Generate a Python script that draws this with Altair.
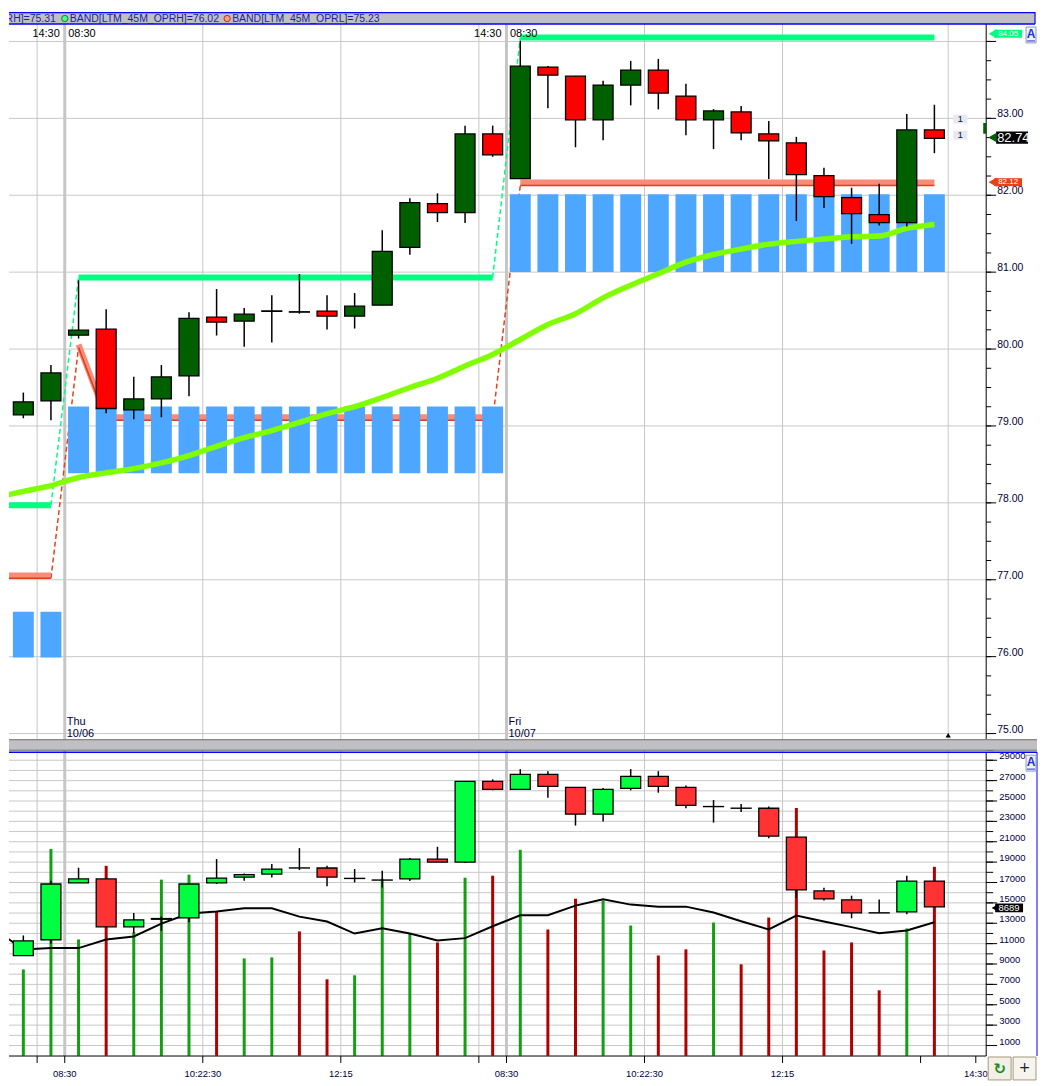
import altair as alt
import pandas as pd

# ---------------- price candles (top panel) ----------------
idx = list(range(34))
p_open = [79.145, 79.326, 80.181, 80.259, 79.21, 79.352, 79.65, 80.414, 80.363, 80.49,
          80.485, 80.492, 80.427, 80.57, 81.321, 81.891, 81.775, 82.798, 82.215, 83.666,
          83.549, 82.979, 83.433, 83.627, 83.29, 82.979, 83.083, 82.798, 82.681, 82.254,
          81.969, 81.749, 81.645, 82.85]
p_high = [79.434, 79.793, 80.894, 80.518, 79.64, 79.793, 80.479, 80.781, 80.535, 80.70,
          80.975, 80.70, 80.729, 81.545, 81.96, 82.025, 82.905, 82.905, 84.01, 83.68,
          83.549, 83.488, 83.747, 83.773, 83.45, 83.12, 83.16, 82.966, 82.759, 82.357,
          82.098, 82.15, 83.057, 83.177]
p_low = [79.10, 79.075, 80.137, 79.166, 79.088, 79.114, 79.386, 80.176, 80.03, 80.086,
         80.46, 80.254, 80.267, 80.57, 81.225, 81.653, 81.64, 82.50, 82.215, 83.13,
         82.624, 82.715, 83.169, 83.117, 82.78, 82.60, 82.715, 82.21, 81.666, 81.834,
         81.368, 81.606, 81.593, 82.547]
p_close = [79.313, 79.689, 80.246, 79.227, 79.352, 79.637, 80.40, 80.35, 80.453, 80.495,
           80.48, 80.427, 80.557, 81.27, 81.904, 81.775, 82.798, 82.526, 83.679, 83.562,
           82.979, 83.433, 83.627, 83.329, 82.979, 83.096, 82.811, 82.707, 82.267, 81.982,
           81.762, 81.645, 82.85, 82.74]

# opening-range band boxes per candle
band_lo = [75.99] * 2 + [78.385] * 16 + [81.001] * 16
band_hi = [76.585] * 2 + [79.253] * 16 + [82.012] * 16

# line series (index -1 .. 33)
line_idx = list(range(-1, 34))
session = [0] * 3 + [1] * 16 + [2] * 16
oprh = [77.97] * 3 + [80.93] * 16 + [84.05] * 16
oprl = [77.057] * 3 + [80.06] + [79.113] * 15 + [82.165] * 16
ma = [78.07, 78.15, 78.225, 78.33, 78.39, 78.445, 78.52, 78.614, 78.735, 78.848,
      78.94, 79.045, 79.16, 79.25, 79.37, 79.50, 79.62, 79.78, 79.93, 80.124,
      80.32, 80.46, 80.665, 80.83, 80.98, 81.13, 81.23, 81.30, 81.364, 81.40,
      81.43, 81.46, 81.47, 81.57, 81.62]

# ---------------- lower panel ----------------
vol = [8470, 20300, 11410, 18640, 12120, 17280, 17770, 14150, 9550, 9650,
       12200, 7500, 7890, 17370, 12000, 11120, 17470, 17670, 20210, 12390,
       15410, 15220, 12780, 9840, 10440, 13070, 8970, 13560, 24310, 10330,
       11120, 6420, 12490, 18540]
vol_line = [12340, 10430, 10560, 10560, 11410, 11700, 12970, 13950, 14150, 14480,
            14480, 13650, 13170, 11990, 12520, 11990, 11310, 11540, 12710, 13790,
            13790, 14730, 15350, 14830, 14630, 14630, 14050, 13200, 12390, 13750,
            13170, 12620, 12020, 12290, 13100]
b_open = [9821, 11380, 16954, 17346, 12648, 13392, 13533, 16954, 17537, 17829,
          18422, 18422, 17406, 17245, 17346, 19297, 19006, 26923, 26148, 27607,
          26339, 23704, 26239, 27416, 26339, 24448, 24287, 24287, 21450, 16169,
          15294, 14016, 14117, 17145]
b_high = [11803, 17175, 18452, 17346, 14016, 13654, 16853, 19297, 17889, 18815,
          20374, 18644, 18322, 18151, 19398, 20505, 26923, 27124, 28130, 27929,
          26339, 26269, 28130, 27929, 26531, 25092, 24710, 24448, 21450, 16491,
          15706, 15324, 17668, 17145]
b_low = [9821, 10988, 16954, 12648, 12024, 12255, 13101, 16853, 17175, 17497,
         18221, 16622, 17014, 16521, 17145, 19006, 18905, 26048, 26148, 25323,
         22587, 22980, 26048, 25816, 24287, 22879, 23925, 21350, 15485, 15223,
         13493, 14016, 13885, 14610]
b_close = [11280, 16853, 17346, 12648, 13332, 13463, 16853, 17436, 17768, 18322,
           18432, 17537, 17396, 17235, 19297, 19006, 26923, 26148, 27607, 26440,
           23704, 26148, 27416, 26440, 24579, 24458, 24297, 21551, 16269, 15394,
           14016, 14026, 17145, 14610]

# ---------------- axes / labels ----------------
price_grid = [75, 76, 77, 78, 79, 80, 81, 82, 83, 84]
price_labels = [75, 76, 77, 78, 79, 80, 81, 82, 83]   # 84.00 is hidden under the tag
price_minor = [75 + 0.25 * k for k in range(38)]
vol_grid = [1000 * k for k in range(1, 31)]
vol_labels = [1000 * k for k in range(1, 30, 2)]
vgrid_idx = [0.5, 1.5, 6.5, 11.5, 16.5, 17.5, 22.5, 27.5, 33.5]
vgrid_w = [1, 3, 1, 1, 1, 3, 1, 1, 1]
xtick_idx = [0.5, 1.5, 6.5, 11.5, 16.5, 17.5, 22.5, 27.5, 32.5, 34.5]
xlab_idx = [1.5, 6.5, 11.5, 17.5, 22.5, 27.5, 34.5]
xlab_txt = ['08:30', '10:22:30', '12:15', '08:30', '10:22:30', '12:15', '14:30']
session_idx = [1.5, 17.5]
sess_end_lab = ['14:30', '14:30']
sess_start_lab = ['08:30', '08:30']
day_name = ['Thu', 'Fri']
day_date = ['10/06', '10/07']
one_levels = [82.99, 82.78]
now_idx = [33.5]

# ---------------- frames ----------------
cd = pd.DataFrame(dict(i=idx, o=p_open, h=p_high, l=p_low, c=p_close, lo=band_lo, hi=band_hi,
                       vol=vol, zero=[0] * 34, bo=b_open, bh=b_high, bl=b_low, bc=b_close))
ld = pd.DataFrame(dict(i=line_idx, s=session, ma=ma, oh=oprh, ol=oprl, vl=vol_line))
rows = []
seg = 0
for k in range(1, len(line_idx)):
    if session[k] != session[k - 1]:
        for j in (k - 1, k):
            rows.append({'seg': seg, 'i': line_idx[j], 'h': oprh[j], 'l': oprl[j]})
        seg += 1
trans = pd.DataFrame(rows)
vg = pd.DataFrame({'i': vgrid_idx, 'w': vgrid_w})
ses = pd.DataFrame({'i': session_idx, 'tl': sess_end_lab, 'tr': sess_start_lab,
                    'dn': day_name, 'dd': day_date})
ONE = pd.DataFrame({'k': [0]})

W = 981
H_TOP = 730
H_BOT = 318
FONT = 'Liberation Sans'
xs = alt.Scale(domain=[-0.339, 34.696], nice=False, zero=False)
yt = alt.Scale(domain=[74.926, 84.382], nice=False, zero=False)
yb = alt.Scale(domain=[-30, 31060], nice=False, zero=False)
NX = alt.X('i:Q', scale=xs, axis=None)


def YT(f):
    return alt.Y(f, scale=yt, axis=None)


def YB(f):
    return alt.Y(f, scale=yb, axis=None)


def px_rect(x1, x2, y1, y2, fill, stroke='', sw=0):
    kw = dict(fill=fill)
    if stroke:
        kw.update(stroke=stroke, strokeWidth=sw)
    return alt.Chart(ONE).mark_rect(**kw).encode(
        x=alt.value(x1), x2=alt.value(x2), y=alt.value(y1), y2=alt.value(y2))


def px_rule(x1, y1, x2, y2, color, w=1):
    return alt.Chart(ONE).mark_rule(color=color, strokeWidth=w).encode(
        x=alt.value(x1), x2=alt.value(x2), y=alt.value(y1), y2=alt.value(y2))


def px_text(x, y, txt, color, size=11, align='left', weight='normal', font=FONT, clip=False):
    return alt.Chart(ONE).mark_text(text=txt, color=color, fontSize=size, align=align,
                                    baseline='middle', font=font, fontWeight=weight,
                                    clip=clip).encode(x=alt.value(x), y=alt.value(y))


up_dn_top = alt.condition('datum.c >= datum.o', alt.value('#006000'), alt.value('#ff0000'))

# ---------------- top panel ----------------
t_hgrid = alt.Chart(pd.DataFrame({'v': price_grid})).mark_rule(color='#c8c8c8', strokeWidth=1).encode(
    y=YT('v:Q'))
t_vgrid = alt.Chart(vg).mark_rule(color='#c6c6c6').encode(
    x=NX, strokeWidth=alt.StrokeWidth('w:Q', scale=None))
t_dash_g = alt.Chart(trans).mark_line(color='#00ff80', strokeWidth=1.5, strokeDash=[5, 3], clip=True).encode(
    x=NX, y=YT('h:Q'), detail='seg:N')
t_dash_r = alt.Chart(trans).mark_line(color='#e8401c', strokeWidth=1.5, strokeDash=[5, 3], yOffset=3,
                                      clip=True).encode(x=NX, y=YT('l:Q'), detail='seg:N')
t_salmon = alt.Chart(ld).mark_line(color='#f98b79', strokeWidth=6, clip=True).encode(
    x=NX, y=YT('ol:Q'), detail='s:N')
t_red = alt.Chart(ld).mark_line(color='#e03c1c', strokeWidth=1.5, yOffset=3, clip=True).encode(
    x=NX, y=YT('ol:Q'), detail='s:N')
t_green = alt.Chart(ld).mark_line(color='#00ff80', strokeWidth=6, clip=True).encode(
    x=NX, y=YT('oh:Q'), detail='s:N')
t_band = alt.Chart(cd).mark_bar(size=21, color='#4da6ff', clip=True).encode(
    x=NX, y=YT('lo:Q'), y2='hi:Q')
t_ma = alt.Chart(ld).mark_line(color='#80ff00', strokeWidth=5.5, interpolate='monotone', clip=True).encode(
    x=NX, y=YT('ma:Q'))
t_wick = alt.Chart(cd).mark_rule(color='black', strokeWidth=1.5).encode(x=NX, y=YT('l:Q'), y2='h:Q')
t_body = alt.Chart(cd).mark_bar(size=20, stroke='black', strokeWidth=1.3).encode(
    x=NX, y=YT('o:Q'), y2='c:Q', color=up_dn_top)

# right price axis (drawn by hand)
t_axis_line = px_rule(W, 0, W, H_TOP, 'black', 1)
t_tick_minor = alt.Chart(pd.DataFrame({'v': price_minor})).mark_rule(color='black').encode(
    x=alt.value(W), x2=alt.value(W + 5), y=YT('v:Q'))
t_tick_major = alt.Chart(pd.DataFrame({'v': price_grid})).mark_rule(color='black').encode(
    x=alt.value(W), x2=alt.value(W + 10), y=YT('v:Q'))
t_axis_lab = alt.Chart(pd.DataFrame({'v': price_labels})).transform_calculate(
    t="format(datum.v, '.2f')").mark_text(
    align='left', baseline='alphabetic', dy=-1, font=FONT, fontSize=10.5, color='#000033').encode(
    x=alt.value(W + 11), y=YT('v:Q'), text='t:N')
t_flag = alt.Chart(pd.DataFrame({'v': [82.87]})).mark_rect(fill='#006000').transform_calculate(
    a='datum.v - 0.07', b='datum.v + 0.07').encode(
    x=alt.value(W - 3), x2=alt.value(W), y=YT('a:Q'), y2='b:Q')

t_tl = alt.Chart(ses).mark_text(align='right', dx=-5, baseline='alphabetic', fontSize=11, font=FONT,
                                color='black').encode(x=NX, y=alt.value(25), text='tl:N')
t_tr = alt.Chart(ses).mark_text(align='left', dx=3.5, baseline='alphabetic', fontSize=11, font=FONT,
                                color='black').encode(x=NX, y=alt.value(25), text='tr:N')
t_dn = alt.Chart(ses).mark_text(align='left', dx=2, baseline='alphabetic', fontSize=11, font=FONT,
                                color='#000040').encode(x=NX, y=alt.value(716), text='dn:N')
t_dd = alt.Chart(ses).mark_text(align='left', dx=2, baseline='alphabetic', fontSize=11, font=FONT,
                                color='#000040').encode(x=NX, y=alt.value(728), text='dd:N')
t_now = alt.Chart(pd.DataFrame({'i': now_idx})).mark_point(shape='triangle-up', filled=True, size=28,
                                                           color='black', opacity=1).encode(
    x=NX, y=alt.value(726))

ones = pd.DataFrame({'v': one_levels, 't': ['1', '1']})
t_one_bg = alt.Chart(ones).mark_rect(fill='#e8e8f4').transform_calculate(
    a='datum.v - 0.058', b='datum.v + 0.058').encode(
    x=alt.value(948), x2=alt.value(962), y=YT('a:Q'), y2='b:Q')
t_one_tx = alt.Chart(ones).mark_text(font=FONT, fontSize=10, color='#202020').encode(
    x=alt.value(955), y=YT('v:Q'), text='t:N')

tags = pd.DataFrame({'v': [84.10, 82.17], 't': ['84.05', '82.12'], 'f': ['#00ff80', '#e8401c']})
t_tag_r = alt.Chart(tags).mark_rect().transform_calculate(
    a='datum.v - 0.052', b='datum.v + 0.052').encode(
    x=alt.value(W + 8), x2=alt.value(W + 36), y=YT('a:Q'), y2='b:Q', fill=alt.Fill('f:N', scale=None))
t_tag_a = alt.Chart(tags).mark_point(shape='triangle-left', filled=True, size=35, opacity=1).encode(
    x=alt.value(W + 7), y=YT('v:Q'), fill=alt.Fill('f:N', scale=None), stroke=alt.Stroke('f:N', scale=None))
t_tag_t = alt.Chart(tags).mark_text(font=FONT, fontSize=8, color='white').encode(
    x=alt.value(W + 22), y=YT('v:Q'), text='t:N')

last = pd.DataFrame({'v': [82.75], 't': ['82.74']})
t_last_r = alt.Chart(last).mark_rect(fill='black').transform_calculate(
    a='datum.v - 0.08', b='datum.v + 0.08').encode(
    x=alt.value(W + 10), x2=alt.value(W + 42), y=YT('a:Q'), y2='b:Q')
t_last_a = alt.Chart(last).mark_point(shape='triangle-left', filled=True, size=80, color='#006000',
                                      opacity=1).encode(x=alt.value(W + 6), y=YT('v:Q'))
t_last_t = alt.Chart(last).mark_text(font=FONT, fontSize=13, color='white', align='left').encode(
    x=alt.value(W + 11), y=YT('v:Q'), text='t:N')

hdr = [
    px_rect(0, 1030, 0, 12, '#c0c0c0'),
    px_rule(0, 0.5, 1030, 0.5, '#0000ff', 1.2),
    px_rule(0, 12, 1030, 12, '#0000ff', 1.5),
    px_rule(1030, 0, 1030, 12, '#0000ff', 1.2),
    px_text(47, 6.5, 'RH]=75.31', '#1a1ab4', 10.5, align='right', clip=True),
    alt.Chart(ONE).mark_circle(size=40, color='#44ff88', stroke='#207040', strokeWidth=1, opacity=1).encode(
        x=alt.value(56), y=alt.value(6.5)),
    px_text(61, 6.5, 'BAND[LTM_45M_OPRH]=76.02', '#1a1ab4', 10.5),
    alt.Chart(ONE).mark_circle(size=40, color='#ff9a88', stroke='#b03020', strokeWidth=1, opacity=1).encode(
        x=alt.value(219), y=alt.value(6.5)),
    px_text(224, 6.5, 'BAND[LTM_45M_OPRL]=75.23', '#1a1ab4', 10.5),
    px_rect(1021, 1031, 15, 31, '#eef0fa', '#9098c8', 1),
    px_text(1026, 22, 'A', '#2030d0', 12, align='center', weight='bold'),
    px_rule(1022, 29, 1030, 29, '#2030d0', 1),
]

top = alt.layer(
    t_hgrid, t_vgrid, t_dash_g, t_dash_r, t_salmon, t_red, t_green, t_band, t_ma,
    t_wick, t_body, t_axis_line, t_tick_minor, t_tick_major, t_axis_lab, t_flag,
    t_tl, t_tr, t_dn, t_dd, t_now,
    t_one_bg, t_one_tx, t_tag_r, t_tag_a, t_tag_t, t_last_r, t_last_a, t_last_t, *hdr
).properties(width=W, height=H_TOP)

# ---------------- bottom panel ----------------
b_hgrid = alt.Chart(pd.DataFrame({'v': vol_grid})).mark_rule(color='#c8c8c8', strokeWidth=1).encode(
    y=YB('v:Q'))
b_vgrid = alt.Chart(vg).mark_rule(color='#c6c6c6').encode(
    x=NX, strokeWidth=alt.StrokeWidth('w:Q', scale=None))
b_vol = alt.Chart(cd).mark_rule(strokeWidth=3, strokeCap='butt').encode(
    x=NX, y=YB('vol:Q'), y2='zero:Q',
    color=alt.condition('datum.c >= datum.o', alt.value('#12a012'), alt.value('#b00000')))
b_line = alt.Chart(ld).mark_line(color='black', strokeWidth=2, clip=True).encode(x=NX, y=YB('vl:Q'))
b_wick = alt.Chart(cd).mark_rule(color='black', strokeWidth=1.5).encode(x=NX, y=YB('bl:Q'), y2='bh:Q')
b_body = alt.Chart(cd).mark_bar(size=20, stroke='black', strokeWidth=1.3).encode(
    x=NX, y=YB('bo:Q'), y2='bc:Q',
    color=alt.condition('datum.bc >= datum.bo', alt.value('#00ff40'), alt.value('#ff3333')))

# right axis + bottom time axis (drawn by hand)
b_axis_v = px_rule(W, 13, W, H_BOT, 'black', 1)
b_axis_h = px_rule(0, H_BOT, W, H_BOT, 'black', 1)
b_tick_minor = alt.Chart(pd.DataFrame({'v': vol_grid})).mark_rule(color='black').encode(
    x=alt.value(W), x2=alt.value(W + 7), y=YB('v:Q'))
b_tick_major = alt.Chart(pd.DataFrame({'v': vol_labels})).mark_rule(color='black').encode(
    x=alt.value(W), x2=alt.value(W + 11), y=YB('v:Q'))
b_axis_lab = alt.Chart(pd.DataFrame({'v': vol_labels})).transform_calculate(
    t="format(datum.v, 'd')").mark_text(
    align='left', baseline='alphabetic', dy=-1, font=FONT, fontSize=9.5, color='#000040').encode(
    x=alt.value(W + 13), y=YB('v:Q'), text='t:N')
b_xtick = alt.Chart(pd.DataFrame({'i': xtick_idx})).mark_rule(color='black').encode(
    x=NX, y=alt.value(H_BOT), y2=alt.value(H_BOT + 7))
b_xlab = alt.Chart(pd.DataFrame({'i': xlab_idx, 't': xlab_txt})).mark_text(
    align='center', baseline='alphabetic', font=FONT, fontSize=9.5, color='#000040').encode(
    x=NX, y=alt.value(H_BOT + 21), text='t:N')

btag = pd.DataFrame({'v': [14508], 't': ['8689']})
b_tag_r = alt.Chart(btag).mark_rect(fill='black').transform_calculate(
    a='datum.v - 430', b='datum.v + 430').encode(
    x=alt.value(W + 9), x2=alt.value(W + 37), y=YB('a:Q'), y2='b:Q')
b_tag_a = alt.Chart(btag).mark_point(shape='triangle-left', filled=True, size=35, color='black',
                                     opacity=1).encode(x=alt.value(W + 8), y=YB('v:Q'))
b_tag_t = alt.Chart(btag).mark_text(font=FONT, fontSize=9.5, color='white').encode(
    x=alt.value(W + 23), y=YB('v:Q'), text='t:N')

sep = [
    px_rect(0, 1032, 0, 11, '#c0c0c0'),
    px_rule(0, 0.5, 1032, 0.5, '#707070', 1),
    px_rule(0, 11, 1032, 11, '#707070', 1),
    px_rule(0, 13, 1032, 13, '#0000ff', 1.5),
    px_rule(1032, 13, 1032, H_BOT, '#0000ff', 1),
    px_rect(1021, 1031, 16, 32, '#eef0fa', '#9098c8', 1),
    px_text(1026, 23, 'A', '#2030d0', 12, align='center', weight='bold'),
    px_rule(1022, 30, 1030, 30, '#2030d0', 1),
    px_rect(983, 1006, 319, 342, '#f2f0e6', '#a89878', 1),
    px_rect(1008, 1031, 319, 342, '#f6f4ee', '#a89878', 1),
    px_text(994.5, 331, '\u21bb', '#1a8a1a', 15, align='center', weight='bold', font='DejaVu Sans'),
    px_text(1019.5, 330, '+', '#202020', 14, align='center', font='DejaVu Sans'),
]

bottom = alt.layer(
    b_hgrid, b_vgrid, b_vol, b_line, b_wick, b_body,
    b_axis_v, b_axis_h, b_tick_minor, b_tick_major, b_axis_lab, b_xtick, b_xlab,
    b_tag_r, b_tag_a, b_tag_t, *sep
).properties(width=W, height=H_BOT)

chart = alt.vconcat(top, bottom, spacing=0, bounds='flush').properties(padding=0).configure_view(
    strokeWidth=0)

chart.save("out.html", embed_options={"renderer": "svg", "actions": False})
